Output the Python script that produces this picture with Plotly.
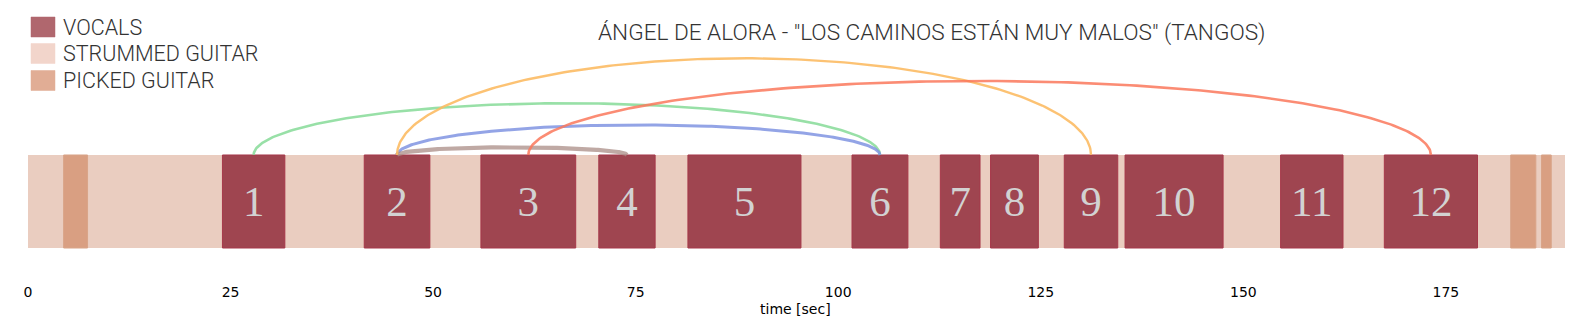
import numpy as np
import plotly.graph_objects as go

# ---- data (seconds) ----
vocal_start = [24.0, 41.5, 55.9, 70.45, 81.45, 101.7, 112.6, 118.8, 127.9, 135.4, 154.6, 167.4]
vocal_end = [31.7, 49.6, 67.6, 77.4, 95.4, 108.6, 117.5, 124.7, 134.5, 147.5, 162.3, 178.9]
vocal_labels = ["1", "2", "3", "4", "5", "6", "7", "8", "9", "10", "11", "12"]
strummed_start = [0.0]
strummed_end = [189.7]
picked_start = [4.4, 183.0, 186.8]
picked_end = [7.35, 186.1, 188.0]

# arcs linking similar vocal sections (segment numbers) and their heights
arc_from = [1, 2, 2, 2, 3]
arc_to = [6, 6, 4, 9, 12]
arc_height = [0.556, 0.323, 0.083, 1.04, 0.796]
arc_colors = ["rgba(134,219,152,0.85)", "rgba(128,148,226,0.85)", "rgba(170,140,133,0.75)",
              "rgba(252,187,100,0.9)", "rgba(250,120,92,0.85)"]
arc_widths = [2.6, 3.0, 4.2, 2.4, 2.6]

tick_vals = [0, 25, 50, 75, 100, 125, 150, 175]
title_text = 'ÁNGEL DE ALORA - "LOS CAMINOS ESTÁN MUY MALOS" (TANGOS)'
legend_names = ["VOCALS", "STRUMMED GUITAR", "PICKED GUITAR"]

# ---- styling ----
C_VOC = "#9f4550"
C_STR = "#eacdc0"
C_PICK = "#d99f82"
LEG_COLORS = ["#b0676e", "#f2d5cb", "#e1ad95"]

W, H = 1580, 320
ML, MR, MT, MB = 28, 15, 10, 42
X_MAX = 189.7
Y_MIN, Y_MAX = -0.3226, 2.559

fig = go.Figure()


def add_bars(starts, ends, color, line_color, line_w):
    s = np.array(starts)
    e = np.array(ends)
    fig.add_trace(go.Bar(
        orientation="h", base=s, x=e - s, y=[0.5] * len(s), width=1.0,
        marker=dict(color=color, line=dict(color=line_color, width=line_w)),
        showlegend=False, hoverinfo="skip"))


add_bars(strummed_start, strummed_end, C_STR, C_STR, 0)
add_bars(picked_start, picked_end, C_PICK, "#d9a488", 1)
add_bars(vocal_start, vocal_end, C_VOC, "#a6384a", 1)

centers = [(a + b) / 2 for a, b in zip(vocal_start, vocal_end)]

# arcs (half ellipses between segment centers)
theta = np.linspace(0, np.pi, 200)
for f, t, h, col, lw in zip(arc_from, arc_to, arc_height, arc_colors, arc_widths):
    c1, c2 = centers[f - 1], centers[t - 1]
    mid, r = (c1 + c2) / 2, (c2 - c1) / 2
    fig.add_trace(go.Scatter(
        x=mid + r * np.cos(theta), y=1 + h * np.sin(theta), mode="lines",
        line=dict(color=col, width=lw), showlegend=False, hoverinfo="skip"))

# numbers inside vocal bars
fig.add_trace(go.Scatter(
    x=centers, y=[0.455] * len(centers), mode="text", text=vocal_labels,
    textposition="middle center",
    textfont=dict(family="Liberation Serif", size=43, color="#d2d2d2"),
    showlegend=False, hoverinfo="skip"))

pw = W - ML - MR
ph = H - MT - MB


def px2paper_x(px):
    return (px - ML) / pw


def px2paper_y(py):
    return (H - MB - py) / ph


shapes = []
annotations = []
leg_y = [27, 53.5, 80.5]
for name, col, yc in zip(legend_names, LEG_COLORS, leg_y):
    shapes.append(dict(type="rect", xref="paper", yref="paper",
                       x0=px2paper_x(31), x1=px2paper_x(55),
                       y0=px2paper_y(yc + 10), y1=px2paper_y(yc - 10),
                       fillcolor=col, line=dict(color=col, width=0.5), layer="above"))
    annotations.append(dict(xref="paper", yref="paper", x=px2paper_x(61), y=px2paper_y(yc),
                            xanchor="left", yanchor="middle", text=name, showarrow=False,
                            font=dict(family="Roboto", size=21.5, color="#333333", weight=300)))

annotations.append(dict(xref="paper", yref="paper", x=px2paper_x(931), y=px2paper_y(32),
                        xanchor="center", yanchor="middle", text=title_text, showarrow=False,
                        font=dict(family="Roboto", size=22.6, color="#333333", weight=300)))
annotations.append(dict(xref="paper", yref="paper", x=px2paper_x(795), y=px2paper_y(309),
                        xanchor="center", yanchor="middle", text="time [sec]", showarrow=False,
                        font=dict(family="DejaVu Sans", size=14, color="#000000")))

fig.update_layout(
    width=W, height=H, margin=dict(l=ML, r=MR, t=MT, b=MB),
    paper_bgcolor="white", plot_bgcolor="white", barmode="overlay",
    shapes=shapes, annotations=annotations,
    xaxis=dict(range=[0, X_MAX], showgrid=False, zeroline=False, showline=False,
               tickvals=tick_vals, ticks="", ticklabelstandoff=4,
               tickfont=dict(family="DejaVu Sans", size=14, color="#000000")),
    yaxis=dict(range=[Y_MIN, Y_MAX], visible=False, showgrid=False, zeroline=False),
    showlegend=False,
)

fig.write_html("out.html", config={"displayModeBar": False},
               post_script="document.body.style.margin='0';document.body.style.overflow='hidden';")
